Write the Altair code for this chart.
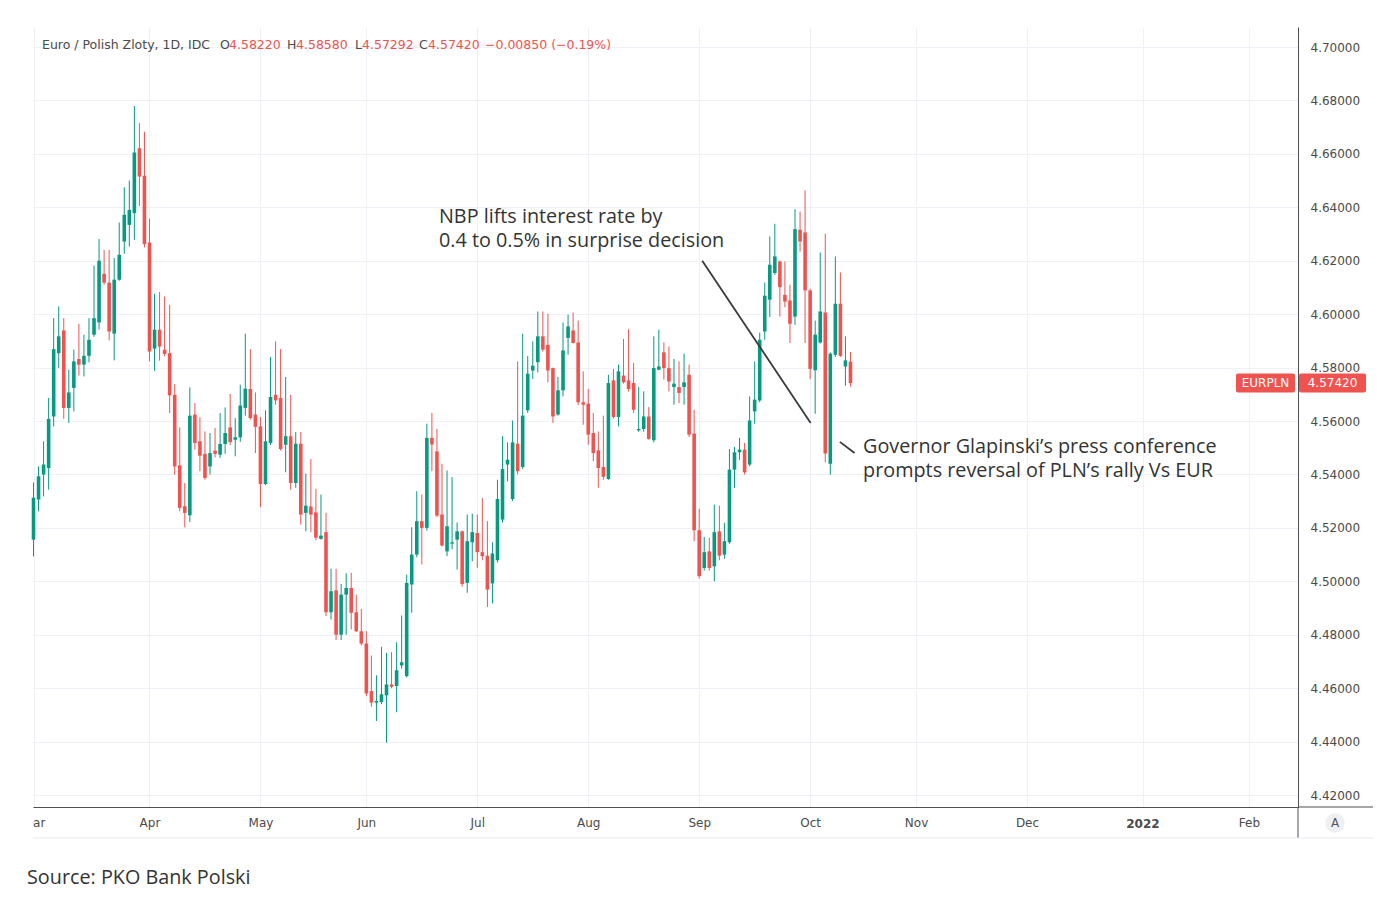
import altair as alt
import pandas as pd

# ---------------- data ----------------
opens = [4.5156, 4.5306, 4.5400, 4.5424, 4.5617, 4.5854, 4.5939, 4.5649, 4.5724, 4.5832,
         4.5811, 4.5844, 4.5923, 4.5969, 4.6151, 4.6118, 4.5927, 4.6129, 4.6272, 4.6334,
         4.6378, 4.6621, 4.6518, 4.6268, 4.5871, 4.5942, 4.5867, 4.5854, 4.5698, 4.5434,
         4.5281, 4.5247, 4.5624, 4.5524, 4.5477, 4.5430, 4.5489, 4.5474, 4.5514, 4.5576,
         4.5530, 4.5539, 4.5649, 4.5720, 4.5624, 4.5580, 4.5364, 4.5518, 4.5698, 4.5686,
         4.5511, 4.5543, 4.5368, 4.5515, 4.5256, 4.5280, 4.5258, 4.5159, 4.5184, 4.4884,
         4.4966, 4.4800, 4.4950, 4.4975, 4.4884, 4.4813, 4.4767, 4.4589, 4.4546, 4.4548,
         4.4573, 4.4614, 4.4608, 4.4685, 4.4645, 4.4988, 4.5100, 4.5225, 4.5200, 4.5537,
         4.5486, 4.5250, 4.5112, 4.5141, 4.5156, 4.5187, 4.4994, 4.5146, 4.5181, 4.5109,
         4.5096, 4.4992, 4.5079, 4.5231, 4.5437, 4.5308, 4.5515, 4.5428, 4.5640, 4.5789,
         4.5820, 4.5917, 4.5885, 4.5798, 4.5624, 4.5715, 4.5911, 4.5939, 4.5894, 4.5670,
         4.5665, 4.5555, 4.5490, 4.5428, 4.5383, 4.5752, 4.5615, 4.5770, 4.5752, 4.5742,
         4.5565, 4.5570, 4.5617, 4.5528, 4.5792, 4.5857, 4.5798, 4.5727, 4.5727, 4.5727,
         4.5773, 4.5553, 4.5191, 4.5050, 4.5112, 4.5056, 4.5187, 4.5100, 4.5146, 4.5418,
         4.5483, 4.5493, 4.5437, 4.5636, 4.5677, 4.5935, 4.6054, 4.6154, 4.6197, 4.6072,
         4.6051, 4.5991, 4.6316, 4.6306, 4.6089, 4.5790, 4.5894, 4.6006, 4.5440, 4.5848,
         4.6039, 4.5804, 4.58220]
highs = [4.5370, 4.5430, 4.5524, 4.5686, 4.5985, 4.6029, 4.5985, 4.5792, 4.5867, 4.5964,
         4.5923, 4.5985, 4.6182, 4.6281, 4.6241, 4.6241, 4.6210, 4.6343, 4.6475, 4.6500,
         4.6779, 4.6715, 4.6683, 4.6357, 4.6076, 4.6083, 4.6066, 4.6035, 4.5738, 4.5576,
         4.5368, 4.5726, 4.5667, 4.5614, 4.5561, 4.5555, 4.5574, 4.5630, 4.5651, 4.5701,
         4.5611, 4.5736, 4.5927, 4.5869, 4.5707, 4.5615, 4.5640, 4.5840, 4.5898, 4.5869,
         4.5765, 4.5698, 4.5559, 4.5559, 4.5403, 4.5458, 4.5346, 4.5325, 4.5256, 4.5047,
         4.5047, 4.4990, 4.5030, 4.5032, 4.4950, 4.4897, 4.4813, 4.4722, 4.4648, 4.4755,
         4.4732, 4.4735, 4.4772, 4.4872, 4.5025, 4.5202, 4.5337, 4.5325, 4.5590, 4.5630,
         4.5570, 4.5440, 4.5415, 4.5390, 4.5220, 4.5190, 4.5250, 4.5253, 4.5250, 4.5312,
         4.5225, 4.5146, 4.5380, 4.5543, 4.5520, 4.5602, 4.5823, 4.5927, 4.5843, 4.5898,
         4.6010, 4.6010, 4.6001, 4.5800, 4.5765, 4.5969, 4.5998, 4.6006, 4.5976, 4.5786,
         4.5720, 4.5630, 4.5561, 4.5620, 4.5773, 4.5795, 4.5811, 4.5907, 4.5944, 4.5817,
         4.5727, 4.5711, 4.5652, 4.5917, 4.5942, 4.5894, 4.5879, 4.5832, 4.5823, 4.5852,
         4.5811, 4.5642, 4.5271, 4.5166, 4.5163, 4.5287, 4.5283, 4.5219, 4.5495, 4.5503,
         4.5537, 4.5518, 4.5692, 4.5823, 4.5931, 4.6118, 4.6291, 4.6338, 4.6201, 4.6197,
         4.6110, 4.6393, 4.6384, 4.6463, 4.6095, 4.5976, 4.6231, 4.6301, 4.5857, 4.6216,
         4.6156, 4.5917, 4.58580]
lows = [4.5093, 4.5262, 4.5318, 4.5343, 4.5580, 4.5798, 4.5608, 4.5593, 4.5636, 4.5770,
        4.5767, 4.5820, 4.5915, 4.5942, 4.6110, 4.5902, 4.5827, 4.6125, 4.6226, 4.6253,
        4.6278, 4.6405, 4.6250, 4.5823, 4.5788, 4.5826, 4.5842, 4.5630, 4.5399, 4.5262,
        4.5202, 4.5222, 4.5493, 4.5412, 4.5380, 4.5399, 4.5464, 4.5462, 4.5477, 4.5510,
        4.5468, 4.5522, 4.5620, 4.5605, 4.5480, 4.5278, 4.5360, 4.5510, 4.5661, 4.5490,
        4.5408, 4.5343, 4.5350, 4.5212, 4.5187, 4.5184, 4.5154, 4.5156, 4.4870, 4.4857,
        4.4780, 4.4780, 4.4800, 4.4820, 4.4810, 4.4760, 4.4570, 4.4530, 4.4477, 4.4540,
        4.4396, 4.4600, 4.4510, 4.4673, 4.4640, 4.4882, 4.5090, 4.5063, 4.5190, 4.5412,
        4.5240, 4.5130, 4.5094, 4.5120, 4.5044, 4.4980, 4.4957, 4.5075, 4.5050, 4.5079,
        4.4904, 4.4917, 4.5070, 4.5220, 4.5374, 4.5300, 4.5400, 4.5420, 4.5630, 4.5757,
        4.5782, 4.5860, 4.5745, 4.5593, 4.5620, 4.5692, 4.5848, 4.5890, 4.5660, 4.5586,
        4.5511, 4.5450, 4.5350, 4.5380, 4.5380, 4.5610, 4.5580, 4.5740, 4.5710, 4.5630,
        4.5560, 4.5560, 4.5530, 4.5520, 4.5790, 4.5755, 4.5711, 4.5661, 4.5667, 4.5661,
        4.5540, 4.5150, 4.5010, 4.5040, 4.5040, 4.5000, 4.5079, 4.5084, 4.5140, 4.5350,
        4.5455, 4.5400, 4.5430, 4.5590, 4.5670, 4.5904, 4.5989, 4.6147, 4.5991, 4.6026,
        4.5892, 4.5960, 4.6234, 4.5892, 4.5757, 4.5627, 4.5890, 4.5445, 4.5399, 4.5840,
        4.5840, 4.5732, 4.57292]
closes = [4.5313, 4.5393, 4.5437, 4.5608, 4.5869, 4.5917, 4.5649, 4.5707, 4.5823, 4.5811,
          4.5844, 4.5904, 4.5985, 4.6200, 4.6118, 4.5935, 4.6129, 4.6222, 4.6372, 4.6390,
          4.6605, 4.6515, 4.6262, 4.5860, 4.5942, 4.5879, 4.5851, 4.5696, 4.5430, 4.5275,
          4.5256, 4.5620, 4.5518, 4.5470, 4.5387, 4.5480, 4.5477, 4.5514, 4.5555, 4.5521,
          4.5539, 4.5658, 4.5721, 4.5611, 4.5578, 4.5364, 4.5524, 4.5690, 4.5677, 4.5495,
          4.5543, 4.5368, 4.5515, 4.5250, 4.5283, 4.5250, 4.5163, 4.5171, 4.4884, 4.4963,
          4.4800, 4.4950, 4.4975, 4.4882, 4.4813, 4.4767, 4.4580, 4.4546, 4.4552, 4.4577,
          4.4614, 4.4605, 4.4667, 4.4697, 4.4994, 4.5100, 4.5225, 4.5200, 4.5537, 4.5512,
          4.5246, 4.5134, 4.5206, 4.5146, 4.5187, 4.4990, 4.5150, 4.5184, 4.5109, 4.5094,
          4.4969, 4.5104, 4.5308, 4.5420, 4.5455, 4.5520, 4.5412, 4.5620, 4.5777, 4.5807,
          4.5917, 4.5867, 4.5789, 4.5617, 4.5715, 4.5864, 4.5954, 4.5892, 4.5670, 4.5661,
          4.5549, 4.5480, 4.5424, 4.5391, 4.5742, 4.5615, 4.5786, 4.5745, 4.5720, 4.5642,
          4.5570, 4.5617, 4.5533, 4.5798, 4.5804, 4.5798, 4.5748, 4.5740, 4.5705, 4.5745,
          4.5549, 4.5191, 4.5019, 4.5109, 4.5050, 4.5184, 4.5096, 4.5150, 4.5418, 4.5483,
          4.5493, 4.5408, 4.5602, 4.5680, 4.5904, 4.6069, 4.6185, 4.6216, 4.6101, 4.6047,
          4.5964, 4.6318, 4.6272, 4.6089, 4.5795, 4.5923, 4.6010, 4.5478, 4.5852, 4.6039,
          4.5844, 4.58270, 4.57420]

month_ticks = [0, 23, 45, 66, 88, 110, 132, 154, 175, 197, 220, 241]
month_labels = ["Mar", "Apr", "May", "Jun", "Jul", "Aug", "Sep", "Oct", "Nov", "Dec", "2022", "Feb"]
price_ticks = [4.42, 4.44, 4.46, 4.48, 4.50, 4.52, 4.54, 4.56, 4.58, 4.60, 4.62, 4.64, 4.66, 4.68, 4.70]

note1_lines = ["NBP lifts interest rate by", "0.4 to 0.5% in surprise decision"]
note1_x = [80.4, 80.4]
note1_y = [4.6364, 4.6274]
note2_lines = ["Governor Glapinski\u2019s press conference", "prompts reversal of PLN\u2019s rally Vs EUR"]
note2_x = [164.5, 164.5]
note2_y = [4.5504, 4.5414]
pointer_x1 = [132.6, 159.9]
pointer_y1 = [4.6200, 4.5522]
pointer_x2 = [154.1, 162.8]
pointer_y2 = [4.5593, 4.5480]

UP = "#089981"
DOWN = "#ef5350"
GRID = "#eef1f6"
TXT = "#4a4a4a"
UIFONT = "DejaVu Sans"
NOTEFONT = "Open Sans"

# ---------------- tables ----------------
df = pd.DataFrame({"i": list(range(len(closes))), "o": opens, "h": highs, "l": lows, "c": closes})
df["dir"] = ["up" if c >= o else "down" for o, c in zip(opens, closes)]

xscale = alt.Scale(domain=[-0.1, 250.74], nice=False, zero=False, padding=0)
yscale = alt.Scale(domain=[4.41551, 4.70749], nice=False, zero=False, padding=0)
cscale = alt.Scale(domain=["up", "down"], range=[UP, DOWN])

label_expr = ""
for t, lab in zip(month_ticks, month_labels):
    label_expr += f"datum.value == {t} ? '{lab}' : "
label_expr += "''"

# identical axis definitions are given to every layer so they merge cleanly
x_axis = alt.Axis(values=month_ticks, labelExpr=label_expr, grid=True, gridColor=GRID,
                  domain=True, domainColor="#4f4f4f", ticks=False, labelPadding=10,
                  labelFontSize=12, labelColor=TXT, labelFont=UIFONT, title=None,
                  labelFlush=False, labelOverlap=False)
y_axis = alt.Axis(orient="right", values=price_ticks, format=".5f", grid=True, gridColor=GRID,
                  domain=True, domainColor="#4f4f4f", ticks=False, labelPadding=12,
                  labelFontSize=12, labelColor=TXT, labelFont=UIFONT, title=None,
                  labelFlush=False, labelOverlap=False)

def X(f):
    return alt.X(f, scale=xscale, axis=x_axis)

def Y(f):
    return alt.Y(f, scale=yscale, axis=y_axis)

base = alt.Chart(df)
wicks = base.mark_rule(strokeWidth=1).encode(
    x=X("i:Q"), y=Y("l:Q"), y2="h:Q",
    color=alt.Color("dir:N", scale=cscale, legend=None),
)
bodies = base.mark_bar(size=3.6).encode(
    x=X("i:Q"), y=Y("o:Q"), y2="c:Q",
    color=alt.Color("dir:N", scale=cscale, legend=None),
)

# annotation pointers
ptr = alt.Chart(pd.DataFrame({"x1": pointer_x1, "y1": pointer_y1, "x2": pointer_x2, "y2": pointer_y2})).mark_rule(
    color="#3a3a3a", strokeWidth=1.8).encode(x=X("x1:Q"), y=Y("y1:Q"), x2="x2:Q", y2="y2:Q")

notes_df = pd.DataFrame({"x": note1_x + note2_x, "y": note1_y + note2_y, "t": note1_lines + note2_lines})
notes = alt.Chart(notes_df).mark_text(align="left", baseline="middle", fontSize=19.8, font=NOTEFONT,
                                      color="#333333").encode(x=X("x:Q"), y=Y("y:Q"), text="t:N")

one = alt.Chart(pd.DataFrame({"k": [0]}))

# header (symbol + OHLC of the last bar)
chg = closes[-1] - closes[-2]
pct = chg / closes[-2] * 100
def fm(v):
    return f"{v:.5f}".replace("-", "\u2212")
header_items = [
    (9, "Euro / Polish Zloty, 1D, IDC", TXT), (187, "O", TXT), (196, fm(opens[-1]), DOWN),
    (254, "H", TXT), (263, fm(highs[-1]), DOWN), (322, "L", TXT), (329, fm(lows[-1]), DOWN),
    (386, "C", TXT), (395, fm(closes[-1]), DOWN),
    (452, f"{fm(chg)} ({pct:.2f}%)".replace("-", "\u2212"), DOWN),
]
header_layers = [
    one.mark_text(text=t, color=col, align="left", baseline="middle", fontSize=12.5, font=UIFONT).encode(
        x=alt.value(px), y=alt.value(18))
    for px, t, col in header_items
]

# bold year label overlaid on the axis at the year tick
year_df = pd.DataFrame({"i": [month_ticks[month_labels.index("2022")]], "t": ["2022"]})
year_mask = alt.Chart(year_df).mark_rect(color="white", xOffset=-20, x2Offset=20).encode(
    x=X("i:Q"), x2="i:Q", y=alt.value(786), y2=alt.value(806))
year_lab = alt.Chart(year_df).mark_text(fontWeight="bold", fontSize=12, font=UIFONT, color=TXT,
                                        baseline="middle", align="center").encode(
    x=X("i:Q"), y=alt.value(797), text="t:N")

# last price tags
last_df = pd.DataFrame({"c": [closes[-1]], "lab": [fm(closes[-1])], "sym": ["EURPLN"]})
tag_a = alt.Chart(last_df).mark_rect(color=DOWN, cornerRadius=2, yOffset=-9.5, y2Offset=9.5).encode(
    x=alt.value(1203), x2=alt.value(1262), y=Y("c:Q"), y2="c:Q")
tag_b = alt.Chart(last_df).mark_rect(color=DOWN, cornerRadius=2, yOffset=-9.5, y2Offset=9.5).encode(
    x=alt.value(1266), x2=alt.value(1333), y=Y("c:Q"), y2="c:Q")
tag_ta = alt.Chart(last_df).mark_text(color="white", fontSize=12, font=UIFONT,
                                      baseline="middle", align="center").encode(
    x=alt.value(1232.5), y=Y("c:Q"), text="sym:N")
tag_tb = alt.Chart(last_df).mark_text(color="white", fontSize=12, font=UIFONT,
                                      baseline="middle", align="center").encode(
    x=alt.value(1299.5), y=Y("c:Q"), text="lab:N")

# hide the clipped part of the first month label, frame lines
mask = one.mark_rect(color="white").encode(x=alt.value(-40), x2=alt.value(0), y=alt.value(782), y2=alt.value(806))
hline = one.mark_rule(color="#4f4f4f", strokeWidth=1).encode(x=alt.value(1265), x2=alt.value(1340), y=alt.value(780))
vline = one.mark_rule(color="#4f4f4f", strokeWidth=1).encode(x=alt.value(1265), y=alt.value(780), y2=alt.value(811))
bline = one.mark_rule(color="#e6e9ef", strokeWidth=1).encode(x=alt.value(0), x2=alt.value(1340), y=alt.value(811))
circ = one.mark_circle(color="#eef0f4", opacity=1, size=380).encode(x=alt.value(1302), y=alt.value(796))
circ_t = one.mark_text(text="A", fontSize=12, color="#555555", font=UIFONT,
                       baseline="middle", align="center").encode(x=alt.value(1302), y=alt.value(796))
source = one.mark_text(text="Source: PKO Bank Polski", fontSize=19.8, font=NOTEFONT, color="#333333",
                       align="left", baseline="middle").encode(x=alt.value(-6), y=alt.value(851))

chart = alt.layer(
    wicks, bodies, ptr, notes, *header_layers, year_mask, year_lab, tag_a, tag_b, tag_ta, tag_tb,
    mask, hline, vline, bline, circ, circ_t, source
).properties(
    width=1265, height=780, autosize=alt.AutoSizeParams(type="none"),
    padding={"left": 33, "top": 27, "right": 102, "bottom": 100},
    background="white",
).configure_view(stroke=None)

chart.save("out.html", embed_options={"renderer": "svg", "actions": False})
